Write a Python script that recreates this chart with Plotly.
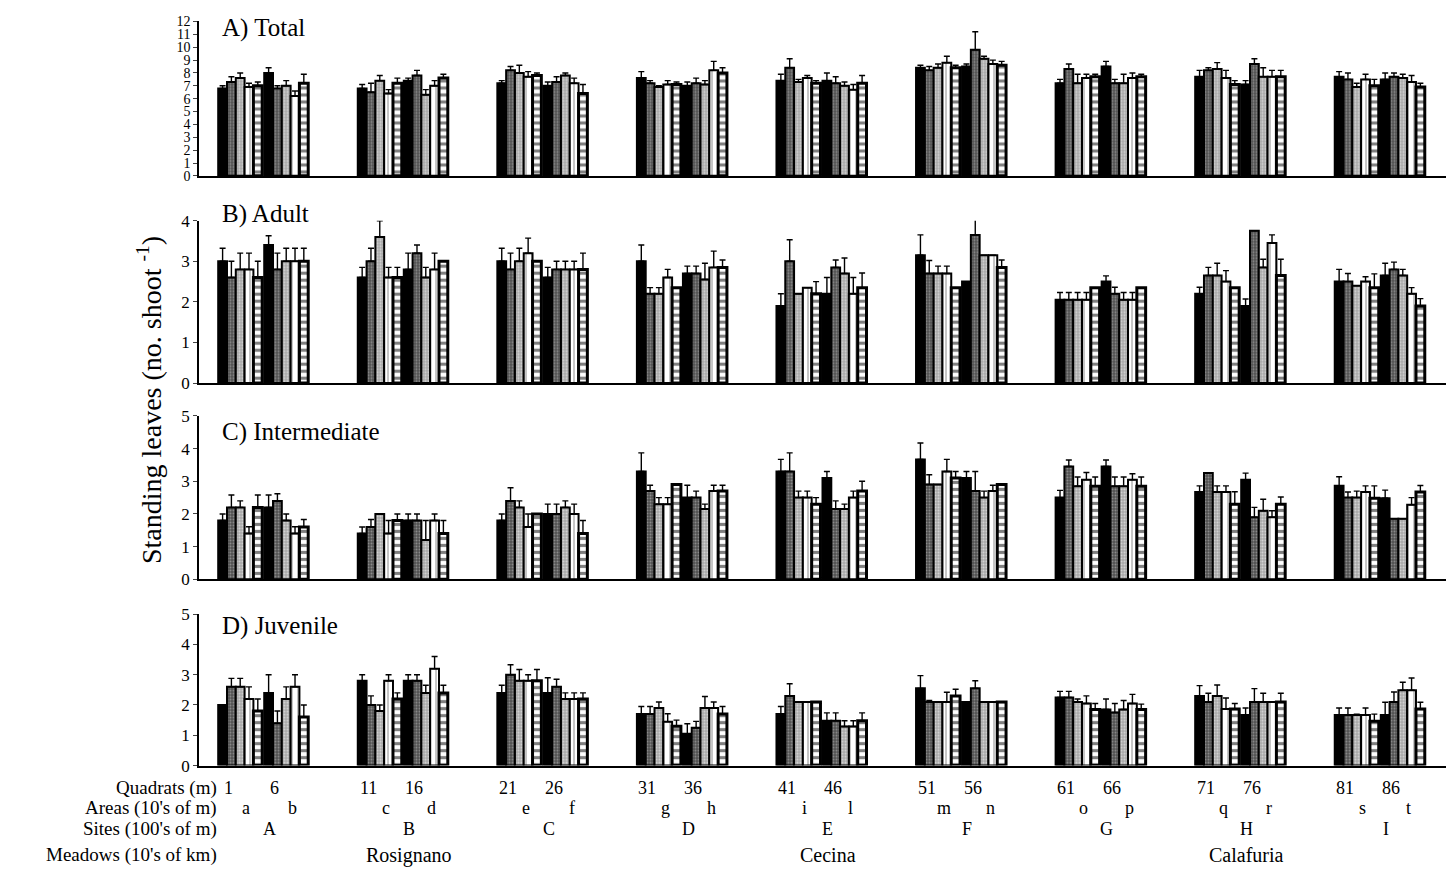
import plotly.graph_objects as go

# ---------------- data ----------------
sites = ["A", "B", "C", "D", "E", "F", "G", "H", "I"]
areas = ["a", "b", "c", "d", "e", "f", "g", "h", "i", "l", "m", "n", "o", "p", "q", "r", "s", "t"]
quadrat_labels = ["1", "6", "11", "16", "21", "26", "31", "36", "41", "46",
                  "51", "56", "61", "66", "71", "76", "81", "86"]
meadows = ["Rosignano", "Cecina", "Calafuria"]
meadow_sites = ["B", "E", "H"]
row_labels = ["Quadrats (m)", "Areas (10's of m)", "Sites (100's of m)", "Meadows (10's of km)"]
panel_titles = ["A) Total", "B) Adult", "C) Intermediate", "D) Juvenile"]
y_max = [12, 4, 5, 5]

# values per site: area 1 quadrats 1-5, area 2 quadrats 1-5
total_mean = [
    6.8, 7.3, 7.6, 6.9, 7.0, 8.0, 6.8, 7.0, 6.2, 7.2,
    6.8, 6.5, 7.4, 6.4, 7.2, 7.4, 7.8, 6.3, 7.0, 7.6,
    7.2, 8.2, 8.0, 7.7, 7.8, 7.0, 7.3, 7.8, 7.2, 6.4,
    7.6, 7.2, 6.9, 7.1, 7.1, 7.0, 7.2, 7.1, 8.2, 8.0,
    7.4, 8.4, 7.3, 7.6, 7.2, 7.4, 7.2, 7.0, 6.7, 7.2,
    8.4, 8.2, 8.4, 8.8, 8.4, 8.5, 9.8, 9.1, 8.7, 8.6,
    7.2, 8.3, 7.2, 7.6, 7.7, 8.5, 7.2, 7.2, 7.6, 7.7,
    7.7, 8.2, 8.3, 7.6, 7.1, 7.1, 8.7, 7.7, 7.7, 7.7,
    7.7, 7.5, 6.9, 7.5, 7.0, 7.5, 7.7, 7.6, 7.3, 6.9,
]
total_err = [
    0.2, 0.4, 0.4, 0.3, 0.3, 0.4, 0.2, 0.4, 0.4, 0.7,
    0.3, 0.7, 0.4, 0.3, 0.4, 0.2, 0.4, 0.4, 0.4, 0.3,
    0.2, 0.3, 0.6, 0.4, 0.2, 0.3, 0.4, 0.2, 0.4, 0.7,
    0.5, 0.2, 0.1, 0.3, 0.2, 0.3, 0.4, 0.3, 0.7, 0.4,
    0.5, 0.7, 0.2, 0.2, 0.2, 0.6, 0.5, 0.3, 0.4, 0.6,
    0.2, 0.3, 0.3, 0.5, 0.2, 0.2, 1.4, 0.2, 0.3, 0.3,
    0.3, 0.4, 0.7, 0.3, 0.2, 0.4, 0.3, 0.7, 0.4, 0.2,
    0.5, 0.2, 0.5, 0.6, 0.3, 0.3, 0.4, 0.7, 0.5, 0.5,
    0.4, 0.5, 0.3, 0.4, 0.5, 0.5, 0.3, 0.3, 0.5, 0.3,
]
adult_mean = [
    3.0, 2.6, 2.8, 2.8, 2.6, 3.4, 2.8, 3.0, 3.0, 3.0,
    2.6, 3.0, 3.6, 2.6, 2.6, 2.8, 3.2, 2.6, 2.8, 3.0,
    3.0, 2.8, 3.0, 3.2, 3.0, 2.6, 2.8, 2.8, 2.8, 2.8,
    3.0, 2.2, 2.2, 2.6, 2.35, 2.7, 2.7, 2.55, 2.85, 2.85,
    1.9, 3.0, 2.2, 2.35, 2.2, 2.2, 2.85, 2.7, 2.2, 2.35,
    3.15, 2.7, 2.7, 2.7, 2.35, 2.5, 3.65, 3.15, 3.15, 2.85,
    2.05, 2.05, 2.05, 2.05, 2.35, 2.5, 2.2, 2.05, 2.05, 2.35,
    2.2, 2.65, 2.65, 2.5, 2.35, 1.9, 3.75, 2.85, 3.45, 2.65,
    2.5, 2.5, 2.4, 2.5, 2.35, 2.65, 2.8, 2.65, 2.2, 1.9,
]
adult_err = [
    0.32, 0.4, 0.4, 0.4, 0.4, 0.23, 0.4, 0.32, 0.32, 0.32,
    0.25, 0.32, 0.4, 0.25, 0.25, 0.4, 0.2, 0.25, 0.4, 0.0,
    0.32, 0.4, 0.32, 0.37, 0.0, 0.25, 0.2, 0.2, 0.2, 0.4,
    0.4, 0.15, 0.15, 0.2, 0.0, 0.18, 0.18, 0.4, 0.4, 0.18,
    0.3, 0.53, 0.0, 0.0, 0.3, 0.4, 0.18, 0.38, 0.4, 0.36,
    0.5, 0.32, 0.18, 0.18, 0.0, 0.0, 0.47, 0.0, 0.0, 0.18,
    0.18, 0.18, 0.18, 0.18, 0.0, 0.14, 0.16, 0.18, 0.18, 0.0,
    0.16, 0.2, 0.3, 0.27, 0.0, 0.17, 0.0, 0.2, 0.2, 0.4,
    0.3, 0.2, 0.0, 0.12, 0.34, 0.3, 0.18, 0.15, 0.15, 0.18,
]
inter_mean = [
    1.8, 2.2, 2.2, 1.4, 2.2, 2.2, 2.4, 1.8, 1.4, 1.6,
    1.4, 1.6, 2.0, 1.4, 1.8, 1.8, 1.8, 1.2, 1.8, 1.4,
    1.8, 2.4, 2.2, 1.6, 2.0, 2.0, 2.0, 2.2, 2.0, 1.4,
    3.3, 2.7, 2.3, 2.3, 2.9, 2.5, 2.5, 2.15, 2.7, 2.7,
    3.3, 3.3, 2.5, 2.5, 2.3, 3.1, 2.15, 2.15, 2.5, 2.7,
    3.67, 2.9, 2.9, 3.3, 3.1, 3.1, 2.7, 2.5, 2.7, 2.9,
    2.5, 3.45, 2.85, 3.05, 2.85, 3.45, 2.85, 2.85, 3.05, 2.85,
    2.67, 3.25, 2.67, 2.67, 2.3, 3.05, 1.9, 2.1, 1.9, 2.3,
    2.86, 2.5, 2.5, 2.67, 2.48, 2.48, 1.85, 1.85, 2.28, 2.67,
]
inter_err = [
    0.2, 0.38, 0.2, 0.21, 0.38, 0.38, 0.22, 0.2, 0.21, 0.23,
    0.2, 0.23, 0.0, 0.4, 0.2, 0.2, 0.2, 0.6, 0.2, 0.4,
    0.2, 0.4, 0.2, 0.4, 0.0, 0.3, 0.3, 0.2, 0.3, 0.4,
    0.57, 0.18, 0.2, 0.2, 0.0, 0.38, 0.2, 0.15, 0.18, 0.18,
    0.37, 0.57, 0.2, 0.2, 0.2, 0.2, 0.25, 0.15, 0.2, 0.3,
    0.5, 0.3, 0.0, 0.37, 0.2, 0.2, 0.6, 0.2, 0.18, 0.0,
    0.22, 0.2, 0.28, 0.22, 0.28, 0.2, 0.28, 0.28, 0.18, 0.28,
    0.19, 0.0, 0.19, 0.19, 0.38, 0.2, 0.3, 0.35, 0.2, 0.22,
    0.28, 0.17, 0.2, 0.19, 0.38, 0.25, 0.0, 0.0, 0.22, 0.2,
]
juv_mean = [
    2.0, 2.6, 2.6, 2.2, 1.8, 2.4, 1.4, 2.2, 2.6, 1.6,
    2.8, 2.0, 1.8, 2.8, 2.2, 2.8, 2.8, 2.4, 3.2, 2.4,
    2.4, 3.0, 2.8, 2.8, 2.8, 2.4, 2.6, 2.2, 2.2, 2.2,
    1.7, 1.7, 1.9, 1.45, 1.3, 1.05, 1.25, 1.9, 1.9, 1.7,
    1.7, 2.3, 2.1, 2.1, 2.1, 1.48, 1.48, 1.29, 1.29, 1.48,
    2.55, 2.1, 2.1, 2.1, 2.3, 2.1, 2.55, 2.1, 2.1, 2.1,
    2.25, 2.25, 2.1, 2.05, 1.85, 1.85, 1.75, 1.85, 2.05, 1.85,
    2.3, 2.1, 2.3, 1.87, 1.87, 1.67, 2.1, 2.1, 2.1, 2.1,
    1.67, 1.67, 1.67, 1.67, 1.46, 1.67, 2.1, 2.49, 2.49, 1.87,
]
juv_err = [
    0.0, 0.28, 0.28, 0.4, 0.4, 0.6, 0.4, 0.4, 0.4, 0.4,
    0.2, 0.3, 0.2, 0.2, 0.2, 0.2, 0.2, 0.25, 0.4, 0.25,
    0.25, 0.33, 0.37, 0.2, 0.37, 0.5, 0.25, 0.2, 0.2, 0.2,
    0.25, 0.25, 0.2, 0.26, 0.2, 0.33, 0.21, 0.38, 0.2, 0.25,
    0.25, 0.4, 0.0, 0.0, 0.0, 0.26, 0.26, 0.19, 0.19, 0.26,
    0.42, 0.05, 0.0, 0.32, 0.22, 0.0, 0.25, 0.0, 0.0, 0.0,
    0.2, 0.2, 0.1, 0.25, 0.2, 0.35, 0.3, 0.3, 0.3, 0.18,
    0.34, 0.29, 0.36, 0.36, 0.18, 0.23, 0.44, 0.29, 0.0, 0.29,
    0.23, 0.23, 0.03, 0.23, 0.24, 0.42, 0.33, 0.26, 0.4, 0.22,
]

panels_mean = [total_mean, adult_mean, inter_mean, juv_mean]
panels_err = [total_err, adult_err, inter_err, juv_err]

# ---------------- geometry / style ----------------
W, H = 1454, 870
FONT = "Liberation Serif"
# compensation for the page offset seen in the rendered picture
OFF_X, OFF_Y, SC_Y = 8.0, 15.5, 0.982


def fx(x_px):
    return (x_px - OFF_X) / W


def fy(y_px):
    return 1 - ((y_px - OFF_Y) / SC_Y) / H


SITE_STEP = 15.86
AREA_STEP = 5.23
N_Q = 5
PX_PER_UNIT = 8.8
X_LEFT_PX, X_RIGHT_PX = 199, 1454
X0_PX = 222.6
x_range = [(X_LEFT_PX - X0_PX) / PX_PER_UNIT, (X_RIGHT_PX - X0_PX) / PX_PER_UNIT]

# (y of value 0, y of top value) in target pixels for each panel
panel_px = [(175, 20), (383, 220), (580, 416), (767, 615)]
title_px = [27, 213, 432, 627]
tick_size = [14, 17, 17, 17]


def xpos(s, k, q):
    return s * SITE_STEP + k * AREA_STEP + q


styles = [
    dict(color="black", lw=2.0),
    dict(color="#505050", lw=2.0, pattern=dict(shape=".", fgcolor="#c8c8c8", bgcolor="#505050", size=3, solidity=0.35)),
    dict(color="#bcbcbc", lw=2.0, pattern=dict(shape=".", fgcolor="#ffffff", bgcolor="#a8a8a8", size=3, solidity=0.4)),
    dict(color="white", lw=2.0, pattern=dict(shape="|", fgcolor="black", bgcolor="white", size=6, solidity=0.15)),
    dict(color="white", lw=3.0, pattern=dict(shape="-", fgcolor="black", bgcolor="white", size=7, solidity=0.45)),
]

fig = go.Figure()
n_sites = len(sites)
for p in range(4):
    xa = "x" if p == 0 else f"x{p + 1}"
    ya = "y" if p == 0 else f"y{p + 1}"
    for q in range(N_Q):
        xs, ys, es = [], [], []
        for s in range(n_sites):
            for k in range(2):
                idx = s * 10 + k * 5 + q
                xs.append(xpos(s, k, q))
                ys.append(panels_mean[p][idx])
                es.append(panels_err[p][idx])
        st = styles[q]
        marker = dict(color=st["color"], line=dict(color="black", width=st["lw"]))
        if "pattern" in st:
            marker["pattern"] = st["pattern"]
        fig.add_trace(go.Bar(
            x=xs, y=ys, width=1.0, marker=marker, xaxis=xa, yaxis=ya,
            error_y=dict(type="data", symmetric=False, array=es, arrayminus=[0] * len(es),
                         color="black", thickness=1.4, width=3),
            showlegend=False, hoverinfo="skip",
        ))

layout = dict(
    width=W, height=H, margin=dict(l=0, r=0, t=0, b=0),
    paper_bgcolor="white", plot_bgcolor="white",
    barmode="overlay", showlegend=False,
    font=dict(family=FONT, color="black"),
)
for p in range(4):
    xk = "xaxis" if p == 0 else f"xaxis{p + 1}"
    yk = "yaxis" if p == 0 else f"yaxis{p + 1}"
    y0, y1 = panel_px[p]
    layout[xk] = dict(
        domain=[fx(X_LEFT_PX), min(1.0, fx(X_RIGHT_PX))], range=x_range,
        anchor="y" if p == 0 else f"y{p + 1}",
        showline=True, linecolor="black", linewidth=1.5,
        showticklabels=False, ticks="", showgrid=False, zeroline=False,
    )
    layout[yk] = dict(
        domain=[fy(y0), fy(y1)], range=[0, y_max[p]],
        anchor="x" if p == 0 else f"x{p + 1}",
        showline=True, linecolor="black", linewidth=1.5,
        ticks="outside", ticklen=4, tickwidth=1.2, dtick=1, tick0=0,
        showgrid=False, zeroline=False,
        tickfont=dict(family=FONT, size=tick_size[p], color="black"),
    )
fig.update_layout(**layout)

ann = []
for p in range(4):
    ann.append(dict(text=panel_titles[p], x=fx(220), y=fy(title_px[p]), xref="paper", yref="paper",
                    xanchor="left", yanchor="middle", showarrow=False,
                    font=dict(family=FONT, size=25, color="black")))
ann.append(dict(text="Standing leaves (no. shoot <sup>-1</sup>)", x=fx(150), y=fy(400),
                xref="paper", yref="paper", textangle=-90, showarrow=False,
                xanchor="center", yanchor="middle",
                font=dict(family=FONT, size=28, color="black")))
row_px = [790, 810, 831, 857]
for r, lab in enumerate(row_labels):
    ann.append(dict(text=lab, x=fx(219), y=fy(row_px[r]), xref="paper", yref="paper",
                    xanchor="right", yanchor="middle", showarrow=False,
                    font=dict(family=FONT, size=19, color="black")))
LABEL_SHIFT = 0.7
for s in range(n_sites):
    for k in range(2):
        i = s * 2 + k
        ann.append(dict(text=quadrat_labels[i], x=xpos(s, k, 0) + LABEL_SHIFT, y=fy(row_px[0]),
                        xref="x4", yref="paper", showarrow=False, xanchor="center", yanchor="middle",
                        font=dict(family=FONT, size=18, color="black")))
        ann.append(dict(text=areas[i], x=xpos(s, k, 2) + LABEL_SHIFT, y=fy(row_px[1]),
                        xref="x4", yref="paper", showarrow=False, xanchor="center", yanchor="middle",
                        font=dict(family=FONT, size=18, color="black")))
    site_c = (xpos(s, 0, 0) + xpos(s, 1, N_Q - 1)) / 2 + LABEL_SHIFT
    ann.append(dict(text=sites[s], x=site_c, y=fy(row_px[2]),
                    xref="x4", yref="paper", showarrow=False, xanchor="center", yanchor="middle",
                    font=dict(family=FONT, size=18, color="black")))
for m, ms in zip(meadows, meadow_sites):
    s = sites.index(ms)
    site_c = (xpos(s, 0, 0) + xpos(s, 1, N_Q - 1)) / 2 + LABEL_SHIFT
    ann.append(dict(text=m, x=site_c, y=fy(row_px[3]),
                    xref="x4", yref="paper", showarrow=False, xanchor="center", yanchor="middle",
                    font=dict(family=FONT, size=20, color="black")))
fig.update_layout(annotations=ann)

fig.write_html("out.html")
